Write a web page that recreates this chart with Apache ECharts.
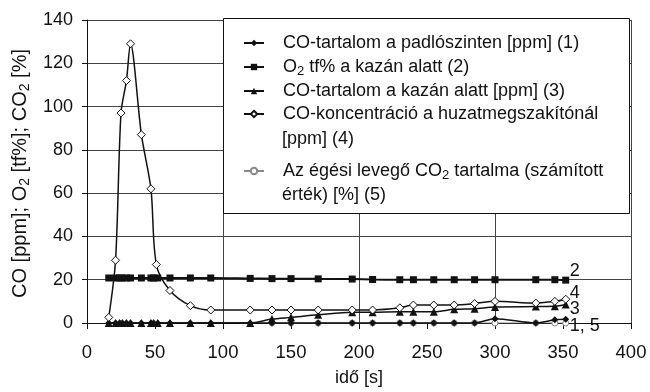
<!DOCTYPE html>
<html><head><meta charset="utf-8">
<script src="https://cdn.jsdelivr.net/npm/echarts@6/dist/echarts.min.js"></script>
<style>html,body{margin:0;padding:0;background:#fff}#c{width:650px;height:392px}</style>
</head><body><div id="c"></div>
<script>
// time stamps [s]
const timeA = [16,21,24,26,29,32,40,47,49,52,61,76,91,120,136,150,170,195,210,230,240,255,270,285,300,330,344,352];
const timeB = [16,21,25,29,32,40,47,51,61,76,91,120,136,150,170,195,210,230,240,255,270,285,300,330,344,352];
const timeC = [136,150,170,195,210,230,240,255,270,285,300,330,344,352];
// (1) CO at floor level [ppm]
const coFloor = [0,0,0,0,0,0,0,0,0,0,0,0,0,0,0,0,0,0,0,0,0,0,0,0,2,0,1.5,1.7];
// (2) O2 under boiler [%]
const o2Boiler = [20.8,20.8,20.8,20.8,20.8,20.8,20.8,20.8,20.8,20.8,20.8,20.8,20.8,20.6,20.5,20.5,20.4,20.3,20.1,20,20,20,20,20,20,20,20,19.8];
// (3) CO under boiler [ppm]
const coBoiler = [0,0,0,0,0,0,0,0,0,0,0,0,0,0,1.8,2.6,3.8,5,5,5.2,5.2,5.2,6.3,6.6,7.4,7.6,7.7,8.5];
// (4) CO at draft diverter [ppm]
const coDraft = [2.6,29,97,112,129,87,62,27,15,8,6,6,6,6,6,6,6,7,8.3,8.3,8.3,9,10,9.2,10,11];
// (5) CO2 of combustion air [%]
const co2Air = [0,0,0,0,0,0,0,0,0,0,0,0,0,0];

const names = [
  'CO-tartalom a padlószinten [ppm] (1)',
  'O2 tf% a kazán alatt (2)',
  'CO-tartalom a kazán alatt [ppm] (3)',
  'CO-koncentráció a huzatmegszakítónál',
  'Az égési levegő CO2 tartalma (számított'
];
const legendRich = {
  '0': 'CO-tartalom a padlószinten [ppm] (1)',
  '1': 'O{s|2} tf% a kazán alatt (2)',
  '2': 'CO-tartalom a kazán alatt [ppm] (3)',
  '3': 'CO-koncentráció a huzatmegszakítónál',
  '4': 'Az égési levegő CO{s|2} tartalma (számított'
};
const secondLines = ['[ppm] (4)', 'érték) [%] (5)'];
const endLabels = ['1, 5', '2', '3', '4'];

const zip = (t, v) => t.map((x, i) => [x, v[i]]);
const FONT = 'Liberation Sans, Arial, sans-serif';

const chart = echarts.init(document.getElementById('c'), null, {renderer: 'canvas'});
const textStyle = {fontFamily: FONT, fontSize: 18, color: '#111', lineHeight: 20, padding: [0,0,0,14],
  rich: {s: {fontFamily: FONT, fontSize: 13, color: '#111', padding: [9,0,0,0], lineHeight: 20}}};
const endLbl = (txt, off) => ({show: true, formatter: txt, fontFamily: FONT, fontSize: 18, color: '#111', offset: off, distance: 4});

chart.setOption({
  animation: false,
  backgroundColor: '#fff',
  grid: {left: 87, right: 19, top: 20, bottom: 68, containLabel: false},
  xAxis: [{
    type: 'value', min: 0, max: 400, interval: 50,
    name: 'idő [s]', nameLocation: 'middle', nameGap: 46,
    nameTextStyle: {fontFamily: FONT, fontSize: 18, color: '#111'},
    axisLine: {lineStyle: {color: '#111', width: 1}},
    axisTick: {show: true, length: 6, lineStyle: {color: '#111'}},
    axisLabel: {fontFamily: FONT, fontSize: 18.5, color: '#111', margin: 20},
    splitLine: {show: false}
  }, {
    type: 'value', min: 0, max: 400, interval: 100, position: 'bottom',
    axisLine: {show: false}, axisTick: {show: false}, axisLabel: {show: false},
    splitLine: {show: true, lineStyle: {color: '#444', width: 1}}
  }],
  yAxis: {
    type: 'value', min: 0, max: 140, interval: 20,
    name: 'CO [ppm]; O{s|2} [tf%]; CO{s|2} [%]', nameLocation: 'middle', nameRotate: 90, nameGap: 47,
    nameTextStyle: {fontFamily: FONT, fontSize: 20, color: '#111', padding: [0, 4, 0, 0],
      rich: {s: {fontFamily: FONT, fontSize: 14, color: '#111', padding: [9,0,0,0]}}},
    axisLine: {show: true, lineStyle: {color: '#111', width: 1}},
    axisTick: {show: true, length: 5, lineStyle: {color: '#111'}},
    axisLabel: {fontFamily: FONT, fontSize: 18, color: '#111', margin: 14},
    splitLine: {show: true, lineStyle: {color: '#444', width: 1}}
  },
  legend: [{
    orient: 'vertical', left: 243, top: 33, padding: 0, itemWidth: 20, itemHeight: 8, itemGap: 3, z: 20,
    data: names.slice(0, 4), textStyle: textStyle,
    formatter: n => legendRich[names.indexOf(n)]
  }, {
    orient: 'vertical', left: 243, top: 160, padding: 0, itemWidth: 20, itemHeight: 8, itemGap: 3, z: 20,
    data: names.slice(4), textStyle: textStyle,
    formatter: n => legendRich[names.indexOf(n)]
  }],
  graphic: [
    {type: 'rect', z: 15, shape: {x: 223.5, y: 18.5, width: 406, height: 195},
      style: {fill: '#fff', stroke: '#111', lineWidth: 1}},
    {type: 'text', z: 16, left: 282, top: 130, style: {text: secondLines[0], font: '18px ' + FONT, fill: '#111'}},
    {type: 'text', z: 16, left: 282, top: 186, style: {text: secondLines[1], font: '18px ' + FONT, fill: '#111'}}
  ],
  series: [
    {name: names[0], type: 'line', data: zip(timeA, coFloor), smooth: 0.3, z: 3,
      symbol: 'diamond', symbolSize: 7, itemStyle: {color: '#111'}, lineStyle: {color: '#111', width: 1.5},
      endLabel: endLbl(endLabels[0], [0, 7])},
    {name: names[1], type: 'line', data: zip(timeA, o2Boiler), smooth: 0.3, z: 4,
      symbol: 'rect', symbolSize: 7, itemStyle: {color: '#111'}, lineStyle: {color: '#111', width: 2},
      endLabel: endLbl(endLabels[1], [0, -9])},
    {name: names[2], type: 'line', data: zip(timeA, coBoiler), smooth: 0.3, z: 5,
      symbol: 'triangle', symbolSize: 8, itemStyle: {color: '#111'}, lineStyle: {color: '#111', width: 1.5},
      endLabel: endLbl(endLabels[2], [0, 4])},
    {name: names[3], type: 'line', data: zip(timeB, coDraft), smooth: 0.3, z: 6,
      symbol: 'diamond', symbolSize: 8, itemStyle: {color: '#fff', borderColor: '#111', borderWidth: 1},
      lineStyle: {color: '#111', width: 1.5},
      endLabel: endLbl(endLabels[3], [0, -6])},
    {name: names[4], type: 'line', data: zip(timeC, co2Air), smooth: 0.3, z: 2,
      symbol: 'circle', symbolSize: 6, itemStyle: {color: '#fff', borderColor: '#888', borderWidth: 1},
      lineStyle: {color: '#888', width: 1}}
  ]
});
</script></body></html>
